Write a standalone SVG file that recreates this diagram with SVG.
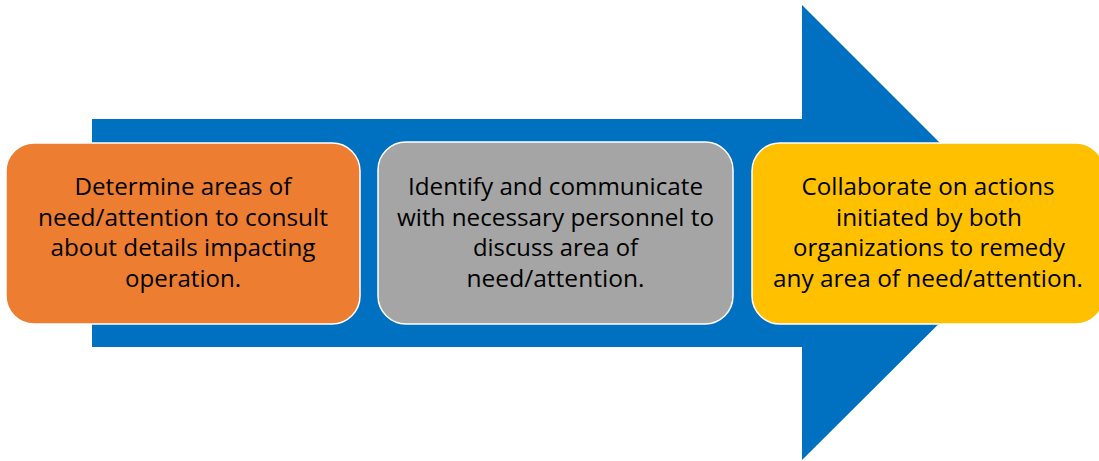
<svg xmlns="http://www.w3.org/2000/svg" width="1099" height="461" viewBox="0 0 1099 461">
<style>
.box{stroke:#ffffff;stroke-width:1.5}
.t{font-family:"Open Sans","Liberation Sans",sans-serif;font-size:24px;fill:#000000;text-anchor:middle}
</style>
<rect width="1099" height="461" fill="#ffffff"/>
<g id="connectors">
<polygon id="arrow" points="92,119 802,119 802,5 1030,233 802,460 802,347 92,347" fill="#0070C0"/>
</g>
<g id="node1">
<rect class="box" x="6" y="143" width="354" height="181" rx="28" fill="#ED7D31"/>
<text class="t" x="183" y="195" textLength="217" lengthAdjust="spacingAndGlyphs">Determine areas of</text>
<text class="t" x="183" y="225.5" textLength="290" lengthAdjust="spacingAndGlyphs">need/attention to consult</text>
<text class="t" x="183" y="256" textLength="265" lengthAdjust="spacingAndGlyphs">about details impacting</text>
<text class="t" x="183" y="286.5" textLength="116" lengthAdjust="spacingAndGlyphs">operation.</text>
</g>
<g id="node2">
<rect class="box" x="378" y="142" width="355" height="182" rx="28" fill="#A5A5A5"/>
<text class="t" x="555.5" y="195" textLength="295" lengthAdjust="spacingAndGlyphs">Identify and communicate</text>
<text class="t" x="555.5" y="225.5" textLength="317" lengthAdjust="spacingAndGlyphs">with necessary personnel to</text>
<text class="t" x="555.5" y="256" textLength="165" lengthAdjust="spacingAndGlyphs">discuss area of</text>
<text class="t" x="555.5" y="286.5" textLength="178" lengthAdjust="spacingAndGlyphs">need/attention.</text>
</g>
<g id="node3">
<rect class="box" x="752" y="143" width="352" height="181" rx="28" fill="#FFC000"/>
<text class="t" x="928" y="195" textLength="253" lengthAdjust="spacingAndGlyphs">Collaborate on actions</text>
<text class="t" x="929" y="225.5" textLength="186" lengthAdjust="spacingAndGlyphs">initiated by both</text>
<text class="t" x="929" y="256" textLength="272" lengthAdjust="spacingAndGlyphs">organizations to remedy</text>
<text class="t" x="928" y="286.5" textLength="310" lengthAdjust="spacingAndGlyphs">any area of need/attention.</text>
</g>
</svg>
